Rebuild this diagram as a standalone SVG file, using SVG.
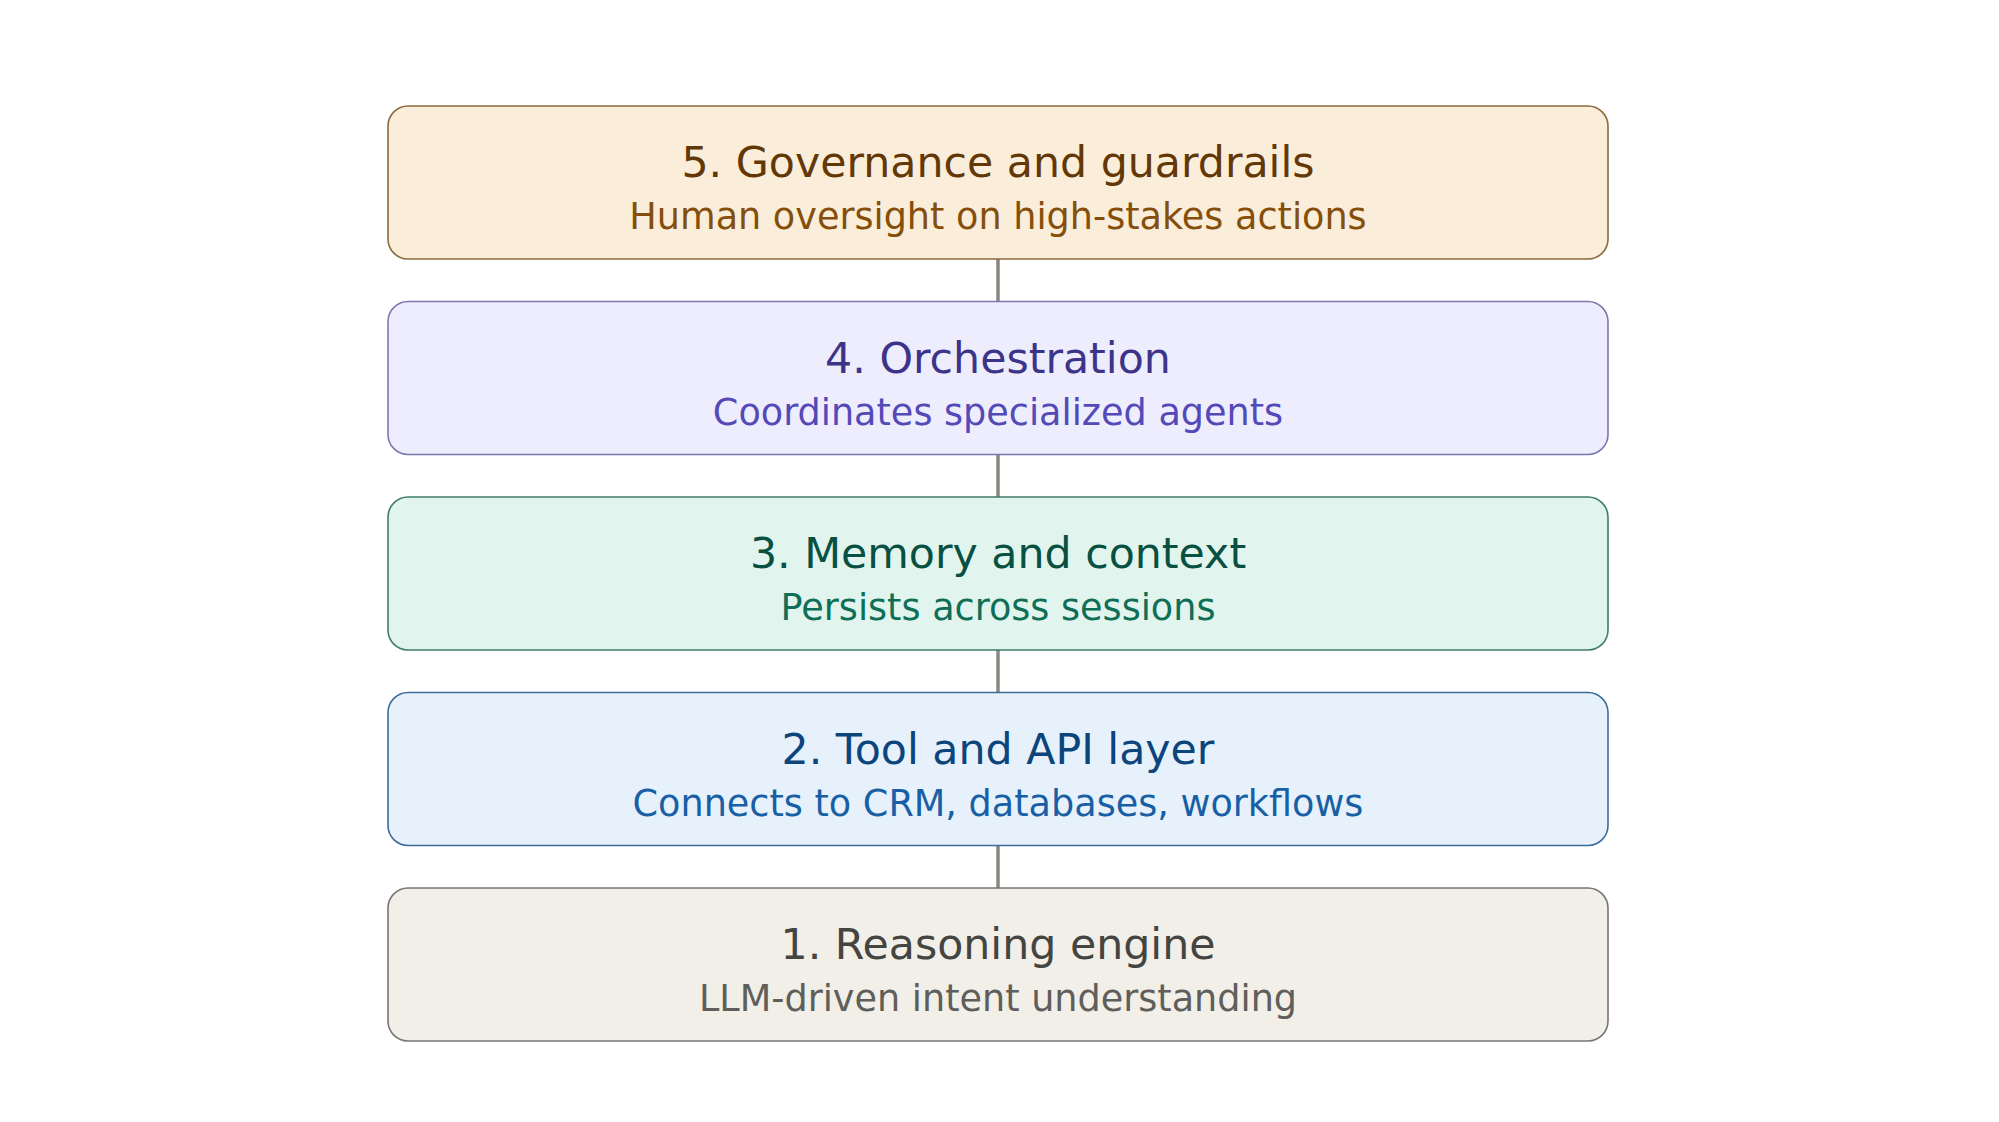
<svg xmlns="http://www.w3.org/2000/svg" width="1999" height="1122" viewBox="0 0 1999 1122">
<style>
.box{stroke-width:1.6}
.t{font-family:"DejaVu Sans",sans-serif;font-size:42.7px;text-anchor:middle}
.s{font-family:"DejaVu Sans",sans-serif;font-size:36.6px;text-anchor:middle}
.c{stroke:#888780;stroke-width:3.5;fill:none}
</style>
<rect width="1999" height="1122" fill="#ffffff"/>
<g id="connectors">
<line class="c" x1="998" y1="259" x2="998" y2="301.5"/>
<line class="c" x1="998" y1="454.5" x2="998" y2="497"/>
<line class="c" x1="998" y1="650" x2="998" y2="692.5"/>
<line class="c" x1="998" y1="845.5" x2="998" y2="888"/>
</g>
<g id="node5">
<rect class="box" x="388" y="106" width="1220" height="153" rx="20" fill="#FAEEDA" stroke="#8A6A3C"/>
<text class="t" x="998" y="177" fill="#633806">5. Governance and guardrails</text>
<text class="s" x="998" y="229" fill="#854F0B">Human oversight on high-stakes actions</text>
</g>
<g id="node4">
<rect class="box" x="388" y="301.5" width="1220" height="153" rx="20" fill="#EEEDFE" stroke="#7D77AE"/>
<text class="t" x="998" y="372.5" fill="#3C3489">4. Orchestration</text>
<text class="s" x="998" y="424.5" fill="#534AB7">Coordinates specialized agents</text>
</g>
<g id="node3">
<rect class="box" x="388" y="497" width="1220" height="153" rx="20" fill="#E1F5EE" stroke="#3F7D68"/>
<text class="t" x="998" y="568" fill="#085041">3. Memory and context</text>
<text class="s" x="998" y="620" fill="#0F6E56">Persists across sessions</text>
</g>
<g id="node2">
<rect class="box" x="388" y="692.5" width="1220" height="153" rx="20" fill="#E6F1FB" stroke="#3D6C98"/>
<text class="t" x="998" y="763.5" fill="#0C447C">2. Tool and API layer</text>
<text class="s" x="998" y="815.5" fill="#185FA5">Connects to CRM, databases, workflows</text>
</g>
<g id="node1">
<rect class="box" x="388" y="888" width="1220" height="153" rx="20" fill="#F1EFE8" stroke="#777672"/>
<text class="t" x="998" y="959" fill="#444441">1. Reasoning engine</text>
<text class="s" x="998" y="1011" fill="#5F5E5A">LLM-driven intent understanding</text>
</g>
</svg>
